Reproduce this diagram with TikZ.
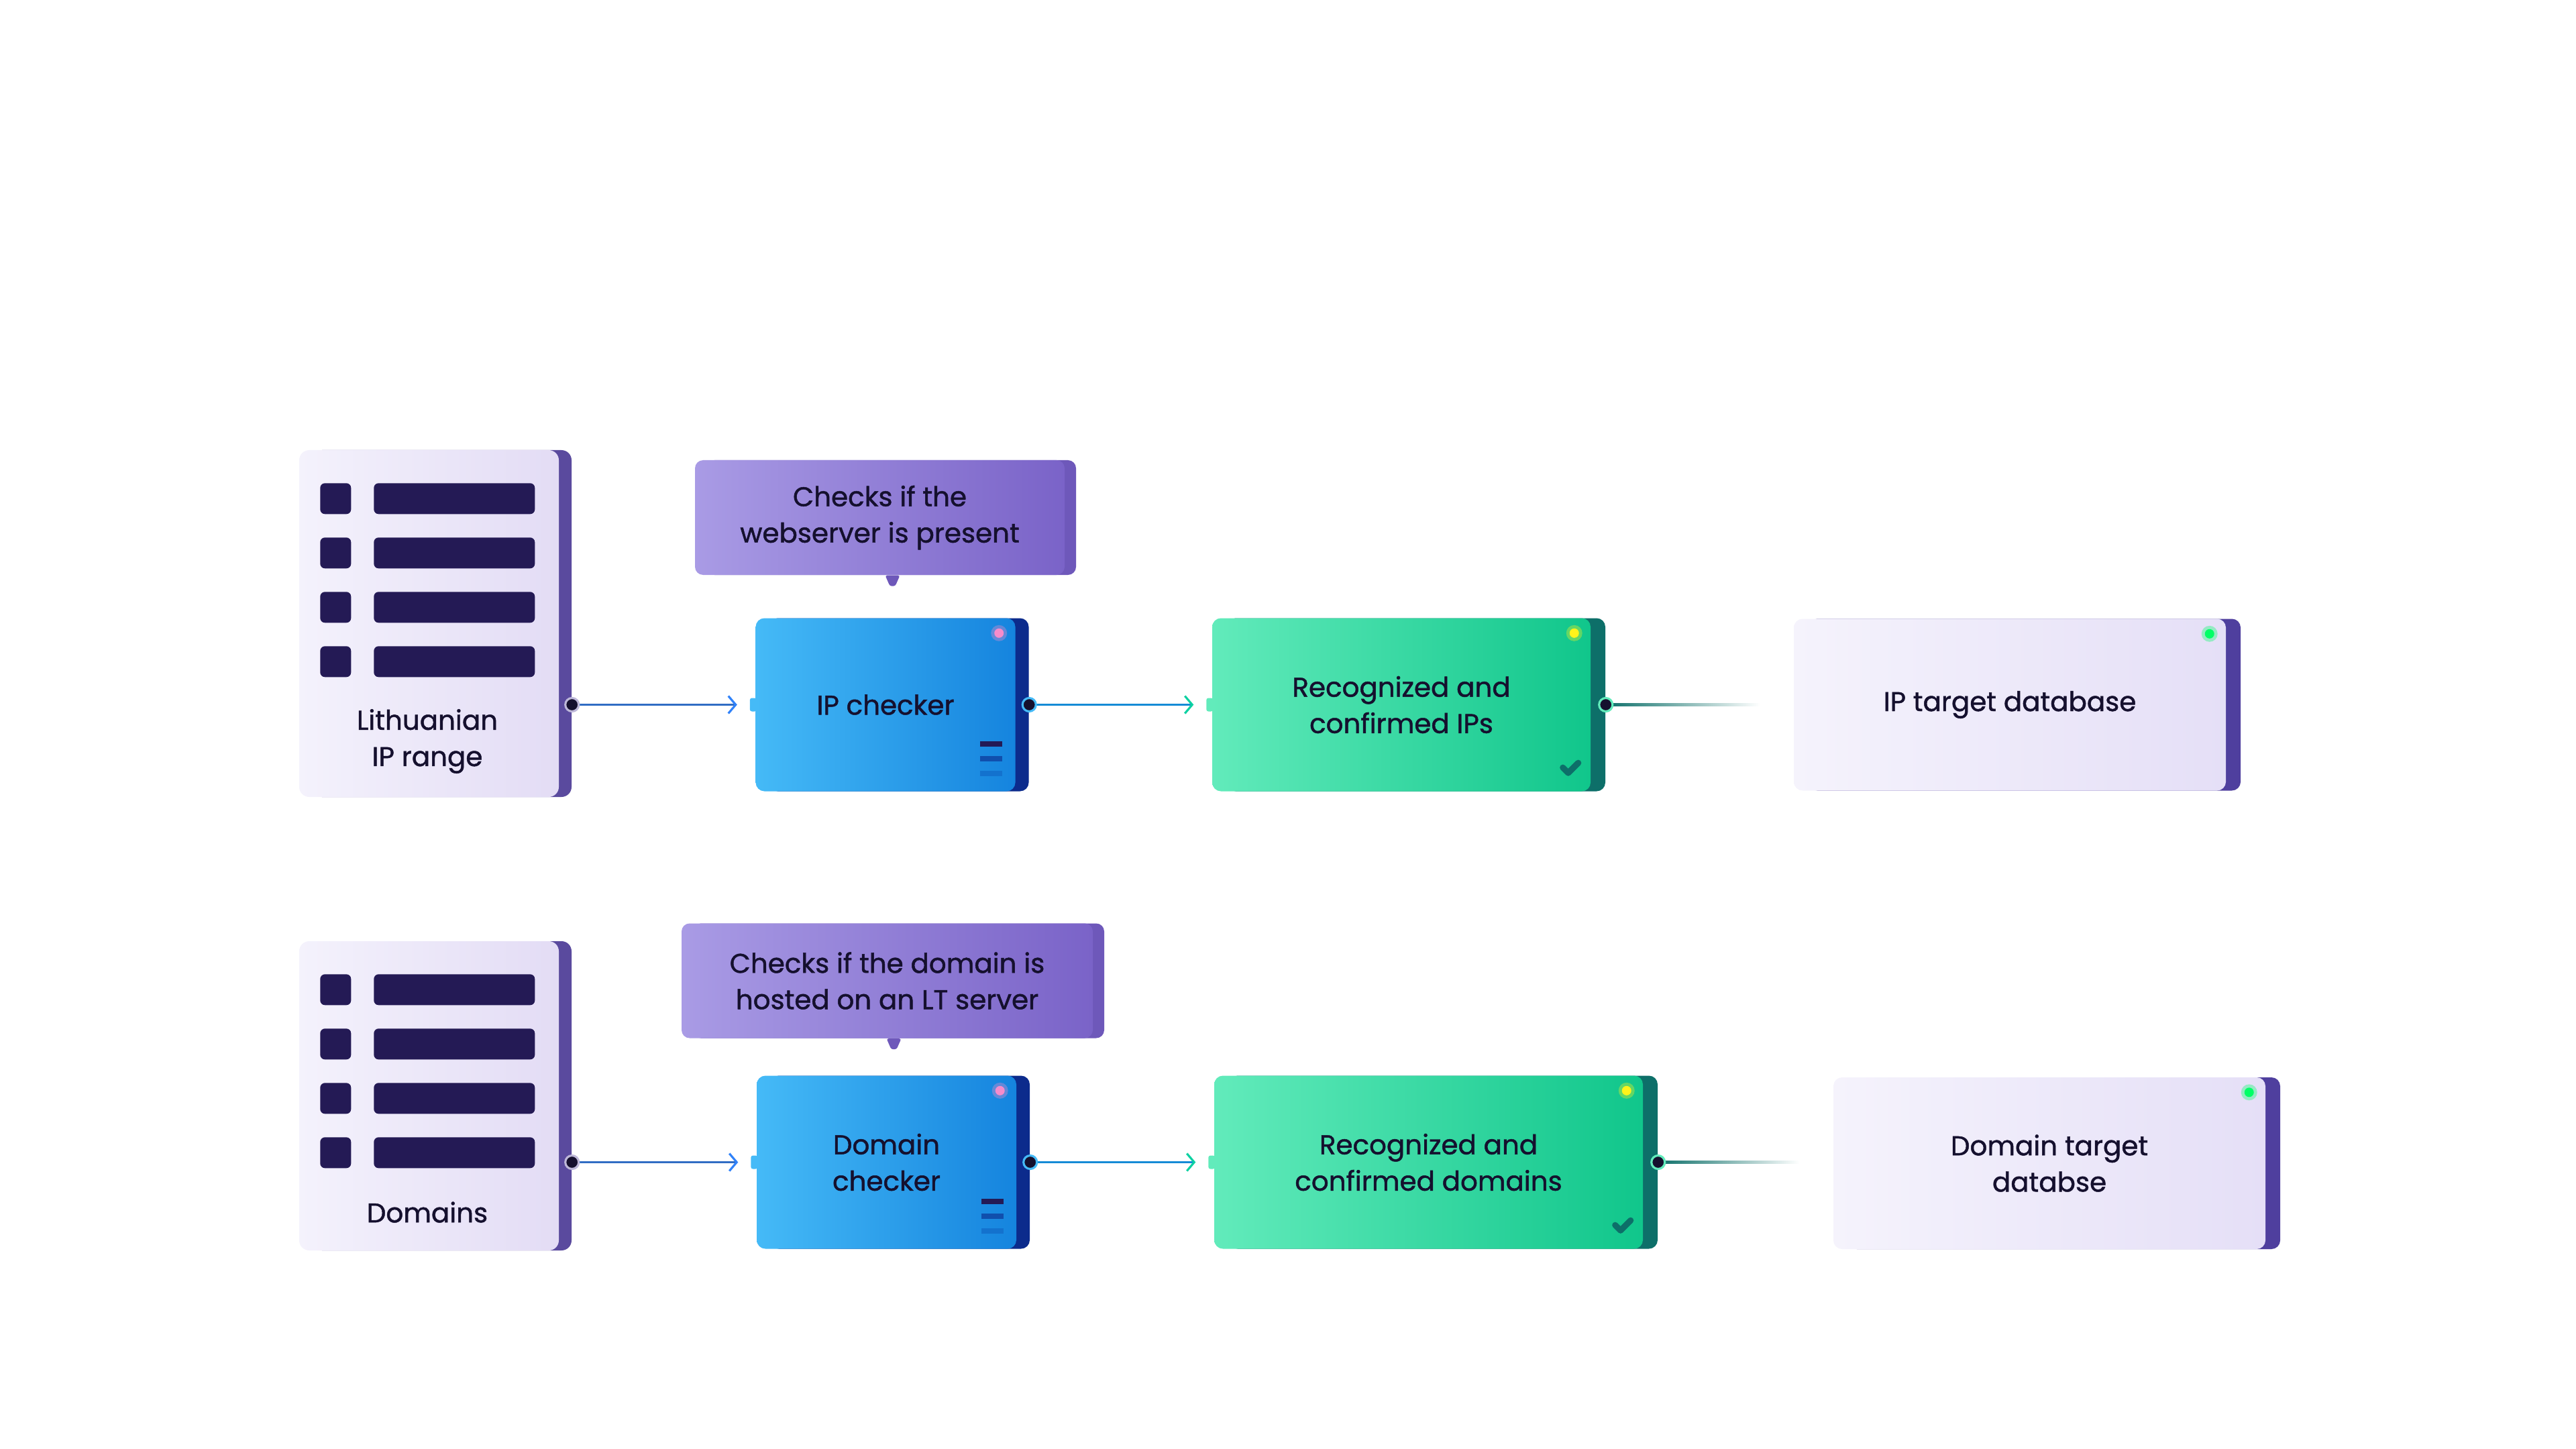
\documentclass[tikz,border=0pt]{standalone}
\usepackage{fontspec}
\setmainfont{Poppins}[FakeBold=1.2]
\usetikzlibrary{shadows, arrows.meta}

\definecolor{ink}{HTML}{15102E}
\definecolor{srcL}{HTML}{F4F2FC}
\definecolor{srcR}{HTML}{E3DCF5}
\definecolor{srcside}{HTML}{5A4A9E}
\definecolor{barcol}{HTML}{241A55}
\definecolor{callL}{HTML}{A99BE5}
\definecolor{callR}{HTML}{7A63C8}
\definecolor{callside}{HTML}{6E58BA}
\definecolor{chkL}{HTML}{45BAF7}
\definecolor{chkR}{HTML}{1584DE}
\definecolor{chkside}{HTML}{0C2B8C}
\definecolor{recL}{HTML}{62EBBB}
\definecolor{recR}{HTML}{10C68B}
\definecolor{recside}{HTML}{0D6F69}
\definecolor{dbL}{HTML}{F5F3FC}
\definecolor{dbR}{HTML}{E5DFF7}
\definecolor{dbside}{HTML}{4F3F9E}

\begin{document}
\begin{tikzpicture}
\tikzset{
    every node/.style={text centered, align=center, text=ink, inner sep=0pt, font=\fontsize{11.5}{15.4}\selectfont},
    source/.style={rectangle, rounded corners=0.15cm, minimum width=3.87cm, left color=srcL, right color=srcR,
        copy shadow={shadow xshift=0.19cm, shadow yshift=0cm, fill=srcside, draw=none}},
    callout/.style={rectangle, rounded corners=0.12cm, minimum height=1.71cm, left color=callL, right color=callR,
        copy shadow={shadow xshift=0.17cm, shadow yshift=0cm, fill=callside, draw=none}},
    checker/.style={rectangle, rounded corners=0.13cm, minimum height=2.58cm, minimum width=3.87cm, left color=chkL, right color=chkR,
        copy shadow={shadow xshift=0.2cm, shadow yshift=0cm, fill=chkside, draw=none}},
    result/.style={rectangle, rounded corners=0.13cm, minimum height=2.58cm, left color=recL, right color=recR,
        copy shadow={shadow xshift=0.22cm, shadow yshift=0cm, fill=recside, draw=none}},
    target/.style={rectangle, rounded corners=0.13cm, minimum height=2.56cm, minimum width=6.44cm, left color=dbL, right color=dbR,
        copy shadow={shadow xshift=0.22cm, shadow yshift=0cm, fill=dbside, draw=none}},
    bar/.style={fill=barcol, rounded corners=0.07cm},
    dot/.style={circle, fill=ink, draw=#1, line width=0.9pt, minimum size=0.2cm},
    tab/.style={fill=#1, rounded corners=0.03cm},
    link/.style={line width=0.9pt, draw=#1, shorten >=0.27cm},
    tip/.style={-{Straight Barb[length=1.1mm, width=2.6mm, line width=0.9pt, color=#1]}},
    tail/.style={fill=callside, rounded corners=0.03cm}
}

\useasboundingbox (0,0) rectangle (38.4,-21.6);

% Верхній ряд
\node[source, minimum height=5.17cm] (lit) at (6.395,-9.295) {};
\node (lit-label) at (6.37,-11.05) {Lithuanian\\IP range};
\node[callout, minimum width=5.51cm] (call1) at (13.115,-7.715) {Checks if the\\webserver is present};
\node[checker] (chk1) at (13.20,-10.505) {IP checker};
\node[result, minimum width=5.64cm] (rec1) at (20.89,-10.505) {Recognized and\\confirmed IPs};
\node[target] (db1) at (29.96,-10.505) {IP target database};

% Нижній ряд
\node[source, minimum height=4.61cm] (dom) at (6.395,-16.335) {};
\node (dom-label) at (6.37,-18.07) {Domains};
\node[callout, minimum width=6.13cm] (call2) at (13.225,-14.62) {Checks if the domain is\\hosted on an LT server};
\node[checker] (chk2) at (13.215,-17.325) {Domain\\checker};
\node[result, minimum width=6.39cm] (rec2) at (21.295,-17.325) {Recognized and\\confirmed domains};
\node[target] (db2) at (30.55,-17.34) {Domain target\\databse};

% Рядки списку
\foreach \card in {lit, dom} {
    \foreach \t in {0.50, 1.31, 2.12, 2.93} {
        \fill[bar] ([shift={(0.32,-\t)}]\card.north west) rectangle ++(0.46,-0.46);
        \fill[bar] ([shift={(1.12,-\t)}]\card.north west) rectangle ++(2.40,-0.46);
    }
}

% Хвостики підказок
\fill[tail] ([xshift=0.08cm]call1.south) -- ++(0.22,0) -- ++(-0.07,-0.16) -- ++(-0.08,0) -- cycle;
\fill[tail] ([xshift=-0.01cm]call2.south) -- ++(0.22,0) -- ++(-0.07,-0.16) -- ++(-0.08,0) -- cycle;

% Індикатори
\foreach \blk/\col in {chk1/magenta!45, chk2/magenta!45, rec1/yellow!90!white, rec2/yellow!90!white, db1/green!60!cyan, db2/green!60!cyan} {
    \fill[\col, opacity=0.35] ([shift={(-0.25,-0.23)}]\blk.north east) circle (0.12);
    \fill[\col] ([shift={(-0.25,-0.23)}]\blk.north east) circle (0.07);
}

% Позначки на перевірниках
\foreach \blk in {chk1, chk2} {
    \fill[barcol] ([shift={(-0.53,0.67)}]\blk.south east) rectangle ++(0.33,0.08);
    \fill[chkside!60!chkR] ([shift={(-0.53,0.45)}]\blk.south east) rectangle ++(0.33,0.08);
    \fill[chkR!80!chkside] ([shift={(-0.53,0.23)}]\blk.south east) rectangle ++(0.33,0.08);
}
\foreach \blk in {rec1, rec2} {
    \draw[recside, line width=2.6pt, line cap=round, line join=round]
        ([shift={(-0.42,0.36)}]\blk.south east) -- ++(0.08,-0.08) -- ++(0.15,0.15);
}

% Точки виходу
\coordinate (lit-out) at ([xshift=0.19cm]lit.east |- chk1.west);
\coordinate (chk1-out) at ([xshift=0.2cm]chk1.east);
\coordinate (rec1-out) at ([xshift=0.22cm]rec1.east);
\coordinate (dom-out) at ([xshift=0.19cm]dom.east |- chk2.west);
\coordinate (chk2-out) at ([xshift=0.2cm]chk2.east);
\coordinate (rec2-out) at ([xshift=0.22cm]rec2.east);

% Стрілки між блоками
\draw[link={chkR!60!srcside}, tip={chkL!70!blue}] (lit-out) -- (chk1.west);
\draw[link={chkR!90!recR}, tip={recR!80!cyan}] (chk1-out) -- (rec1.west);
\shade[left color=recside, right color=white] ([yshift=0.016cm]rec1-out) rectangle ([xshift=-0.5cm, yshift=-0.016cm]db1.west);
\draw[link={chkR!60!srcside}, tip={chkL!70!blue}] (dom-out) -- (chk2.west);
\draw[link={chkR!90!recR}, tip={recR!80!cyan}] (chk2-out) -- (rec2.west);
\shade[left color=recside, right color=white] ([yshift=0.016cm]rec2-out) rectangle ([xshift=-0.5cm, yshift=-0.016cm]db2.west |- rec2-out);

% Язички входу
\fill[tab=chkL] ([shift={(-0.08,-0.1)}]chk1.west) rectangle ++(0.1,0.2);
\fill[tab=chkL] ([shift={(-0.08,-0.1)}]chk2.west) rectangle ++(0.1,0.2);
\fill[tab=recL] ([shift={(-0.08,-0.1)}]rec1.west) rectangle ++(0.1,0.2);
\fill[tab=recL] ([shift={(-0.08,-0.1)}]rec2.west) rectangle ++(0.1,0.2);

\node[dot=srcside!40] (lit-dot) at (lit-out) {};
\node[dot=chkL] (chk1-dot) at (chk1-out) {};
\node[dot=recL] (rec1-dot) at (rec1-out) {};
\node[dot=srcside!40] (dom-dot) at (dom-out) {};
\node[dot=chkL] (chk2-dot) at (chk2-out) {};
\node[dot=recL] (rec2-dot) at (rec2-out) {};
\end{tikzpicture}
\end{document}
